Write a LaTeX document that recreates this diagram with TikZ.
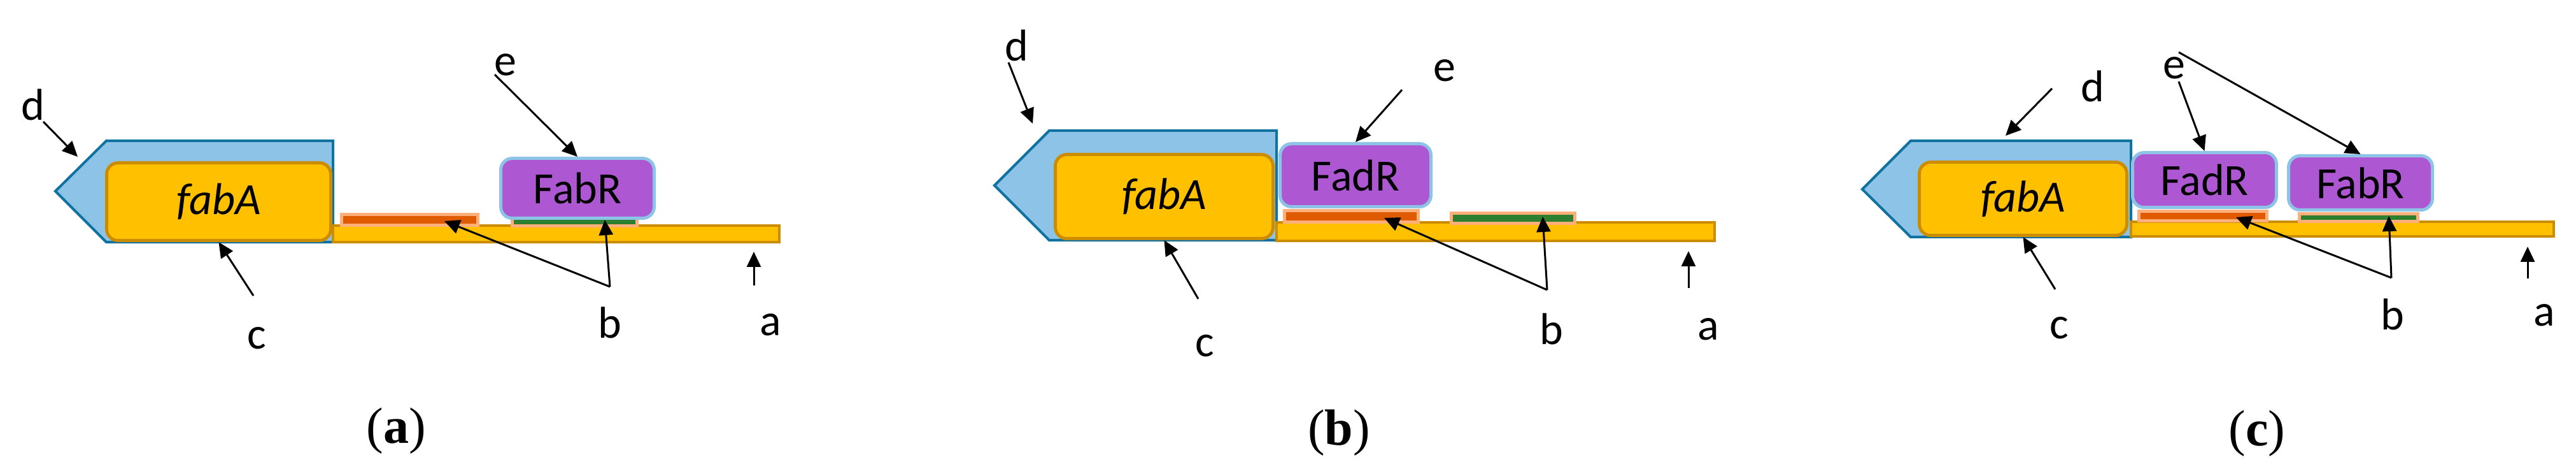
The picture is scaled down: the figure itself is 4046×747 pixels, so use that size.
\documentclass[tikz,border=0pt]{standalone}
\usepackage{fontspec}
\usepackage{tikz}
\usetikzlibrary{arrows,arrows.meta}
\setmainfont{Carlito}
\newfontfamily\capfont{Liberation Serif}
\definecolor{genefill}{RGB}{141,195,230}
\definecolor{genedraw}{RGB}{15,114,160}
\definecolor{gold}{RGB}{255,192,0}
\definecolor{golddraw}{RGB}{204,140,0}
\definecolor{salmon}{RGB}{255,176,122}
\definecolor{siteorange}{RGB}{224,90,0}
\definecolor{sitegreen}{RGB}{46,128,48}
\definecolor{protfill}{RGB}{174,87,210}

\begin{document}
\begin{tikzpicture}[x=0.25pt,y=0.25pt,yscale=-1,xscale=1,
  genearrow/.style={draw=genedraw,fill=genefill,line width=1pt,line join=miter},
  fabbox/.style={draw=golddraw,fill=gold,line width=1.25pt,rounded corners=4.5pt,inner sep=0pt,font=\fontsize{17.5}{20}\selectfont\itshape},
  dnabar/.style={draw=golddraw,fill=gold,line width=1pt},
  sitebox/.style={draw=salmon,line width=1.25pt,inner sep=0pt},
  protbox/.style={draw=genefill,fill=protfill,line width=1.25pt,rounded corners=4.5pt,inner sep=0pt,font=\fontsize{17.5}{20}\selectfont},
  lbl/.style={inner sep=0pt,font=\fontsize{17.5}{20}\selectfont},
  captext/.style={inner sep=0pt,font=\capfont\fontsize{20}{24}\selectfont},
  ptr/.style={line width=0.75pt,-{Triangle[length=6pt,width=5.5pt]}}]
\useasboundingbox (0,0) rectangle (4046,747);

%%%%%% panel (a)
%Shape: Polygon
\draw[genearrow] (87,300) -- (167,221) -- (523,221) -- (523,380) -- (167,380) -- cycle;
\node[fabbox,minimum width=88pt,minimum height=30.5pt] (fabA1) at (343.5,316.5) {fabA};
%Shape: Rectangle
\draw[dnabar] (523,354) rectangle (1224,380);
\node[sitebox,fill=siteorange,minimum width=53.5pt,minimum height=4.25pt] (ora1) at (643.5,345) {};
\node[sitebox,fill=sitegreen,minimum width=49pt,minimum height=4.25pt] (grn1) at (902.5,346) {};
\node[protbox,minimum width=60.25pt,minimum height=23.5pt] (FabR1) at (907,295.5) {FabR};
%Labels
\node[lbl] (d1) at (52,164) {d};
\node[lbl] (e1) at (794,102) {e};
\node[lbl] (c1) at (403,531) {c};
\node[lbl] (b1) at (958,506) {b};
\node[lbl] (a1) at (1210,510) {a};
\node[captext] (capa) at (622,676) {(\textbf{a})};
\coordinate (d1s) at (68,191);   \coordinate (d1t) at (122,246);
\coordinate (e1s) at (777,117);
\coordinate (c1s) at (398,464);
\coordinate (b1s) at (958,450);  \coordinate (b1o) at (698,347);  \coordinate (b1g) at (950,345);
\coordinate (a1s) at (1184,448); \coordinate (a1t) at (1184,395);
%Straight Lines
\draw[ptr] (d1s) -- (d1t);
\draw[ptr] (e1s) -- (FabR1.north);
\draw[ptr] (c1s) -- (fabA1.south);
\draw[ptr] (b1s) -- (b1o);
\draw[ptr] (b1s) -- (b1g);
\draw[ptr] (a1s) -- (a1t);

%%%%%% panel (b)
%Shape: Polygon
\draw[genearrow] (1562,291) -- (1648,205) -- (2005,205) -- (2005,377) -- (1648,377) -- cycle;
\node[fabbox,minimum width=85.5pt,minimum height=33pt] (fabA2) at (1828.5,308.5) {fabA};
%Shape: Rectangle
\draw[dnabar] (2005,349) rectangle (2693,378);
\node[sitebox,fill=siteorange,minimum width=52.5pt,minimum height=4.5pt] (ora2) at (2122.5,339.5) {};
\node[sitebox,fill=sitegreen,minimum width=48.5pt,minimum height=4pt] (grn2) at (2376.5,342.5) {};
\node[protbox,minimum width=59.25pt,minimum height=24.75pt] (FadR2) at (2129,275) {FadR};
%Labels
\node[lbl] (d2) at (1597,71) {d};
\node[lbl] (e2) at (2269,111) {e};
\node[lbl] (c2) at (1892,543) {c};
\node[lbl] (b2) at (2437,516) {b};
\node[lbl] (a2) at (2683,517) {a};
\node[captext] (capb) at (2103,679) {(\textbf{b})};
\coordinate (d2s) at (1584,98);  \coordinate (d2t) at (1622,194);
\coordinate (e2s) at (2202,141);
\coordinate (c2s) at (1882,469);
\coordinate (b2s) at (2430,455); \coordinate (b2o) at (2174,342); \coordinate (b2g) at (2423,340);
\coordinate (a2s) at (2652,452); \coordinate (a2t) at (2652,394);
%Straight Lines
\draw[ptr] (d2s) -- (d2t);
\draw[ptr] (e2s) -- (FadR2.north);
\draw[ptr] (c2s) -- (fabA2.south);
\draw[ptr] (b2s) -- (b2o);
\draw[ptr] (b2s) -- (b2g);
\draw[ptr] (a2s) -- (a2t);

%%%%%% panel (c)
%Shape: Polygon
\draw[genearrow] (2925,297) -- (3001,221) -- (3347,221) -- (3347,372) -- (3001,372) -- cycle;
\node[fabbox,minimum width=81.5pt,minimum height=28.75pt] (fabA3) at (3177.5,312) {fabA};
%Shape: Rectangle
\draw[dnabar] (3347,348) rectangle (4011,371);
\node[sitebox,fill=siteorange,minimum width=50.25pt,minimum height=3.75pt] (ora3) at (3460,339) {};
\node[sitebox,fill=sitegreen,minimum width=46.5pt,minimum height=3pt] (grn3) at (3704.5,341.5) {};
\node[protbox,minimum width=56.5pt,minimum height=21.5pt] (FadR3) at (3462.5,282.5) {FadR};
\node[protbox,minimum width=56.5pt,minimum height=21.25pt] (FabR3) at (3707.5,287) {FabR};
%Labels
\node[lbl] (d3) at (3287,135) {d};
\node[lbl] (e3) at (3415,107) {e};
\node[lbl] (c3) at (3234,515) {c};
\node[lbl] (b3) at (3758,493) {b};
\node[lbl] (a3) at (3996,495) {a};
\node[captext] (capc) at (3545,680) {(\textbf{c})};
\coordinate (d3s) at (3223,139); \coordinate (d3t) at (3150,213);
\coordinate (e3s) at (3422,128); \coordinate (e3r) at (3422,82);
\coordinate (c3s) at (3228,454);
\coordinate (b3s) at (3756,436); \coordinate (b3o) at (3512,341); \coordinate (b3g) at (3752,339);
\coordinate (a3s) at (3970,437); \coordinate (a3t) at (3970,387);
%Straight Lines
\draw[ptr] (d3s) -- (d3t);
\draw[ptr] (e3s) -- (FadR3.north);
\draw[ptr] (e3r) -- (FabR3.north);
\draw[ptr] (c3s) -- (fabA3.south);
\draw[ptr] (b3s) -- (b3o);
\draw[ptr] (b3s) -- (b3g);
\draw[ptr] (a3s) -- (a3t);

\end{tikzpicture}
\end{document}
